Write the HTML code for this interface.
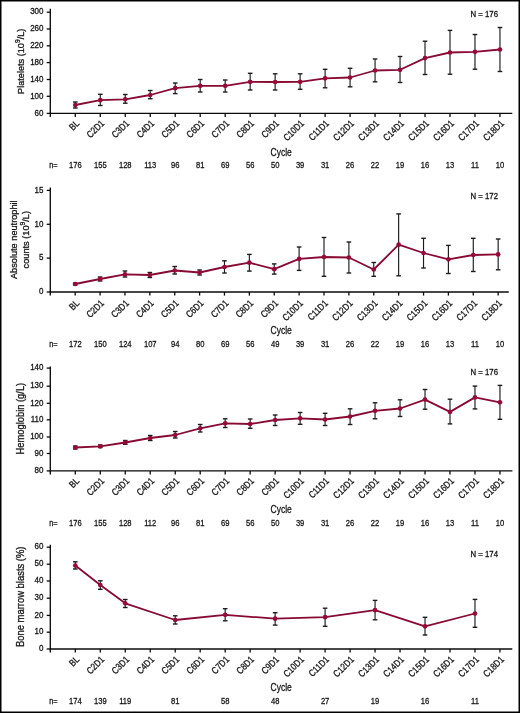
<!DOCTYPE html>
<html><head><meta charset="utf-8"><style>
html,body{margin:0;padding:0;background:#fff;}
#c{position:relative;width:520px;height:713px;overflow:hidden;background:#fff;}
svg{position:absolute;left:0;top:0;filter:blur(0.3px);}
text{font-family:"Liberation Sans", sans-serif;fill:#151515;stroke:#151515;stroke-width:0.3px;}
</style></head><body><div id="c">
<svg width="520" height="713" viewBox="0 0 520 713">
<rect x="0.75" y="0.75" width="518.5" height="711.5" fill="none" stroke="#000" stroke-width="1.5"/>
<line x1="50.3" y1="8.8" x2="50.3" y2="117.0" stroke="#0a0a0a" stroke-width="1.35"/>
<line x1="49.7" y1="113.4" x2="512.3" y2="113.4" stroke="#0a0a0a" stroke-width="1.35"/>
<line x1="46.7" y1="12.2" x2="50.3" y2="12.2" stroke="#0a0a0a" stroke-width="1.3"/>
<text transform="translate(43.50,14.45) scale(0.909,1)" text-anchor="end" font-size="8.80">300</text>
<line x1="46.7" y1="29.0" x2="50.3" y2="29.0" stroke="#0a0a0a" stroke-width="1.3"/>
<text transform="translate(43.50,31.25) scale(0.909,1)" text-anchor="end" font-size="8.80">260</text>
<line x1="46.7" y1="45.8" x2="50.3" y2="45.8" stroke="#0a0a0a" stroke-width="1.3"/>
<text transform="translate(43.50,48.05) scale(0.909,1)" text-anchor="end" font-size="8.80">220</text>
<line x1="46.7" y1="62.6" x2="50.3" y2="62.6" stroke="#0a0a0a" stroke-width="1.3"/>
<text transform="translate(43.50,64.85) scale(0.909,1)" text-anchor="end" font-size="8.80">180</text>
<line x1="46.7" y1="79.5" x2="50.3" y2="79.5" stroke="#0a0a0a" stroke-width="1.3"/>
<text transform="translate(43.50,81.75) scale(0.909,1)" text-anchor="end" font-size="8.80">140</text>
<line x1="46.7" y1="96.3" x2="50.3" y2="96.3" stroke="#0a0a0a" stroke-width="1.3"/>
<text transform="translate(43.50,98.55) scale(0.909,1)" text-anchor="end" font-size="8.80">100</text>
<line x1="46.7" y1="113.4" x2="50.3" y2="113.4" stroke="#0a0a0a" stroke-width="1.3"/>
<text transform="translate(43.50,115.65) scale(0.909,1)" text-anchor="end" font-size="8.80">60</text>
<line x1="75.30" y1="113.4" x2="75.30" y2="117.0" stroke="#0a0a0a" stroke-width="1.3"/>
<text transform="translate(79.90,124.00) rotate(-45) scale(0.833,1)" text-anchor="end" font-size="9.60">BL</text>
<line x1="100.28" y1="113.4" x2="100.28" y2="117.0" stroke="#0a0a0a" stroke-width="1.3"/>
<text transform="translate(104.88,124.00) rotate(-45) scale(0.833,1)" text-anchor="end" font-size="9.60">C2D1</text>
<line x1="125.26" y1="113.4" x2="125.26" y2="117.0" stroke="#0a0a0a" stroke-width="1.3"/>
<text transform="translate(129.86,124.00) rotate(-45) scale(0.833,1)" text-anchor="end" font-size="9.60">C3D1</text>
<line x1="150.24" y1="113.4" x2="150.24" y2="117.0" stroke="#0a0a0a" stroke-width="1.3"/>
<text transform="translate(154.84,124.00) rotate(-45) scale(0.833,1)" text-anchor="end" font-size="9.60">C4D1</text>
<line x1="175.22" y1="113.4" x2="175.22" y2="117.0" stroke="#0a0a0a" stroke-width="1.3"/>
<text transform="translate(179.82,124.00) rotate(-45) scale(0.833,1)" text-anchor="end" font-size="9.60">C5D1</text>
<line x1="200.20" y1="113.4" x2="200.20" y2="117.0" stroke="#0a0a0a" stroke-width="1.3"/>
<text transform="translate(204.80,124.00) rotate(-45) scale(0.833,1)" text-anchor="end" font-size="9.60">C6D1</text>
<line x1="225.18" y1="113.4" x2="225.18" y2="117.0" stroke="#0a0a0a" stroke-width="1.3"/>
<text transform="translate(229.78,124.00) rotate(-45) scale(0.833,1)" text-anchor="end" font-size="9.60">C7D1</text>
<line x1="250.16" y1="113.4" x2="250.16" y2="117.0" stroke="#0a0a0a" stroke-width="1.3"/>
<text transform="translate(254.76,124.00) rotate(-45) scale(0.833,1)" text-anchor="end" font-size="9.60">C8D1</text>
<line x1="275.14" y1="113.4" x2="275.14" y2="117.0" stroke="#0a0a0a" stroke-width="1.3"/>
<text transform="translate(279.74,124.00) rotate(-45) scale(0.833,1)" text-anchor="end" font-size="9.60">C9D1</text>
<line x1="300.12" y1="113.4" x2="300.12" y2="117.0" stroke="#0a0a0a" stroke-width="1.3"/>
<text transform="translate(304.72,124.00) rotate(-45) scale(0.833,1)" text-anchor="end" font-size="9.60">C10D1</text>
<line x1="325.10" y1="113.4" x2="325.10" y2="117.0" stroke="#0a0a0a" stroke-width="1.3"/>
<text transform="translate(329.70,124.00) rotate(-45) scale(0.833,1)" text-anchor="end" font-size="9.60">C11D1</text>
<line x1="350.08" y1="113.4" x2="350.08" y2="117.0" stroke="#0a0a0a" stroke-width="1.3"/>
<text transform="translate(354.68,124.00) rotate(-45) scale(0.833,1)" text-anchor="end" font-size="9.60">C12D1</text>
<line x1="375.06" y1="113.4" x2="375.06" y2="117.0" stroke="#0a0a0a" stroke-width="1.3"/>
<text transform="translate(379.66,124.00) rotate(-45) scale(0.833,1)" text-anchor="end" font-size="9.60">C13D1</text>
<line x1="400.04" y1="113.4" x2="400.04" y2="117.0" stroke="#0a0a0a" stroke-width="1.3"/>
<text transform="translate(404.64,124.00) rotate(-45) scale(0.833,1)" text-anchor="end" font-size="9.60">C14D1</text>
<line x1="425.02" y1="113.4" x2="425.02" y2="117.0" stroke="#0a0a0a" stroke-width="1.3"/>
<text transform="translate(429.62,124.00) rotate(-45) scale(0.833,1)" text-anchor="end" font-size="9.60">C15D1</text>
<line x1="450.00" y1="113.4" x2="450.00" y2="117.0" stroke="#0a0a0a" stroke-width="1.3"/>
<text transform="translate(454.60,124.00) rotate(-45) scale(0.833,1)" text-anchor="end" font-size="9.60">C16D1</text>
<line x1="474.98" y1="113.4" x2="474.98" y2="117.0" stroke="#0a0a0a" stroke-width="1.3"/>
<text transform="translate(479.58,124.00) rotate(-45) scale(0.833,1)" text-anchor="end" font-size="9.60">C17D1</text>
<line x1="499.96" y1="113.4" x2="499.96" y2="117.0" stroke="#0a0a0a" stroke-width="1.3"/>
<text transform="translate(504.56,124.00) rotate(-45) scale(0.833,1)" text-anchor="end" font-size="9.60">C18D1</text>
<text transform="translate(270.60,155.80) scale(0.769,1)" font-size="11.05">Cycle</text>
<text transform="translate(49.20,168.00) scale(0.800,1)" font-size="9.25">n=</text>
<text transform="translate(75.30,168.00) scale(0.800,1)" text-anchor="middle" font-size="9.50">176</text>
<text transform="translate(100.28,168.00) scale(0.800,1)" text-anchor="middle" font-size="9.50">155</text>
<text transform="translate(125.26,168.00) scale(0.800,1)" text-anchor="middle" font-size="9.50">128</text>
<text transform="translate(150.24,168.00) scale(0.800,1)" text-anchor="middle" font-size="9.50">113</text>
<text transform="translate(175.22,168.00) scale(0.800,1)" text-anchor="middle" font-size="9.50">96</text>
<text transform="translate(200.20,168.00) scale(0.800,1)" text-anchor="middle" font-size="9.50">81</text>
<text transform="translate(225.18,168.00) scale(0.800,1)" text-anchor="middle" font-size="9.50">69</text>
<text transform="translate(250.16,168.00) scale(0.800,1)" text-anchor="middle" font-size="9.50">56</text>
<text transform="translate(275.14,168.00) scale(0.800,1)" text-anchor="middle" font-size="9.50">50</text>
<text transform="translate(300.12,168.00) scale(0.800,1)" text-anchor="middle" font-size="9.50">39</text>
<text transform="translate(325.10,168.00) scale(0.800,1)" text-anchor="middle" font-size="9.50">31</text>
<text transform="translate(350.08,168.00) scale(0.800,1)" text-anchor="middle" font-size="9.50">26</text>
<text transform="translate(375.06,168.00) scale(0.800,1)" text-anchor="middle" font-size="9.50">22</text>
<text transform="translate(400.04,168.00) scale(0.800,1)" text-anchor="middle" font-size="9.50">19</text>
<text transform="translate(425.02,168.00) scale(0.800,1)" text-anchor="middle" font-size="9.50">16</text>
<text transform="translate(450.00,168.00) scale(0.800,1)" text-anchor="middle" font-size="9.50">13</text>
<text transform="translate(474.98,168.00) scale(0.800,1)" text-anchor="middle" font-size="9.50">11</text>
<text transform="translate(499.96,168.00) scale(0.800,1)" text-anchor="middle" font-size="9.50">10</text>
<text transform="translate(498.00,17.40) scale(0.909,1)" text-anchor="end" font-size="8.58">N = 176</text>
<text transform="translate(23.60,61.30) rotate(-90) scale(0.935,1)" text-anchor="middle" font-size="9.79">Platelets (10<tspan dy='-3.4' font-size='7.2'>9</tspan><tspan dy='3.4'>/L)</tspan></text>
<line x1="75.30" y1="102" x2="75.30" y2="108" stroke="#1c1c1c" stroke-width="1.15"/>
<line x1="73.00" y1="102" x2="77.60" y2="102" stroke="#1c1c1c" stroke-width="1.4"/>
<line x1="73.00" y1="108" x2="77.60" y2="108" stroke="#1c1c1c" stroke-width="1.4"/>
<line x1="100.28" y1="94.3" x2="100.28" y2="105.5" stroke="#1c1c1c" stroke-width="1.15"/>
<line x1="97.98" y1="94.3" x2="102.58" y2="94.3" stroke="#1c1c1c" stroke-width="1.4"/>
<line x1="97.98" y1="105.5" x2="102.58" y2="105.5" stroke="#1c1c1c" stroke-width="1.4"/>
<line x1="125.26" y1="94.5" x2="125.26" y2="103.2" stroke="#1c1c1c" stroke-width="1.15"/>
<line x1="122.96" y1="94.5" x2="127.56" y2="94.5" stroke="#1c1c1c" stroke-width="1.4"/>
<line x1="122.96" y1="103.2" x2="127.56" y2="103.2" stroke="#1c1c1c" stroke-width="1.4"/>
<line x1="150.24" y1="90.5" x2="150.24" y2="98.7" stroke="#1c1c1c" stroke-width="1.15"/>
<line x1="147.94" y1="90.5" x2="152.54" y2="90.5" stroke="#1c1c1c" stroke-width="1.4"/>
<line x1="147.94" y1="98.7" x2="152.54" y2="98.7" stroke="#1c1c1c" stroke-width="1.4"/>
<line x1="175.22" y1="83" x2="175.22" y2="93.6" stroke="#1c1c1c" stroke-width="1.15"/>
<line x1="172.92" y1="83" x2="177.52" y2="83" stroke="#1c1c1c" stroke-width="1.4"/>
<line x1="172.92" y1="93.6" x2="177.52" y2="93.6" stroke="#1c1c1c" stroke-width="1.4"/>
<line x1="200.20" y1="79.5" x2="200.20" y2="92" stroke="#1c1c1c" stroke-width="1.15"/>
<line x1="197.90" y1="79.5" x2="202.50" y2="79.5" stroke="#1c1c1c" stroke-width="1.4"/>
<line x1="197.90" y1="92" x2="202.50" y2="92" stroke="#1c1c1c" stroke-width="1.4"/>
<line x1="225.18" y1="80" x2="225.18" y2="92" stroke="#1c1c1c" stroke-width="1.15"/>
<line x1="222.88" y1="80" x2="227.48" y2="80" stroke="#1c1c1c" stroke-width="1.4"/>
<line x1="222.88" y1="92" x2="227.48" y2="92" stroke="#1c1c1c" stroke-width="1.4"/>
<line x1="250.16" y1="73.3" x2="250.16" y2="90" stroke="#1c1c1c" stroke-width="1.15"/>
<line x1="247.86" y1="73.3" x2="252.46" y2="73.3" stroke="#1c1c1c" stroke-width="1.4"/>
<line x1="247.86" y1="90" x2="252.46" y2="90" stroke="#1c1c1c" stroke-width="1.4"/>
<line x1="275.14" y1="73.8" x2="275.14" y2="90" stroke="#1c1c1c" stroke-width="1.15"/>
<line x1="272.84" y1="73.8" x2="277.44" y2="73.8" stroke="#1c1c1c" stroke-width="1.4"/>
<line x1="272.84" y1="90" x2="277.44" y2="90" stroke="#1c1c1c" stroke-width="1.4"/>
<line x1="300.12" y1="73.8" x2="300.12" y2="89.3" stroke="#1c1c1c" stroke-width="1.15"/>
<line x1="297.82" y1="73.8" x2="302.42" y2="73.8" stroke="#1c1c1c" stroke-width="1.4"/>
<line x1="297.82" y1="89.3" x2="302.42" y2="89.3" stroke="#1c1c1c" stroke-width="1.4"/>
<line x1="325.10" y1="69.3" x2="325.10" y2="87.8" stroke="#1c1c1c" stroke-width="1.15"/>
<line x1="322.80" y1="69.3" x2="327.40" y2="69.3" stroke="#1c1c1c" stroke-width="1.4"/>
<line x1="322.80" y1="87.8" x2="327.40" y2="87.8" stroke="#1c1c1c" stroke-width="1.4"/>
<line x1="350.08" y1="68.3" x2="350.08" y2="86.8" stroke="#1c1c1c" stroke-width="1.15"/>
<line x1="347.78" y1="68.3" x2="352.38" y2="68.3" stroke="#1c1c1c" stroke-width="1.4"/>
<line x1="347.78" y1="86.8" x2="352.38" y2="86.8" stroke="#1c1c1c" stroke-width="1.4"/>
<line x1="375.06" y1="59" x2="375.06" y2="81.8" stroke="#1c1c1c" stroke-width="1.15"/>
<line x1="372.76" y1="59" x2="377.36" y2="59" stroke="#1c1c1c" stroke-width="1.4"/>
<line x1="372.76" y1="81.8" x2="377.36" y2="81.8" stroke="#1c1c1c" stroke-width="1.4"/>
<line x1="400.04" y1="56.5" x2="400.04" y2="82.5" stroke="#1c1c1c" stroke-width="1.15"/>
<line x1="397.74" y1="56.5" x2="402.34" y2="56.5" stroke="#1c1c1c" stroke-width="1.4"/>
<line x1="397.74" y1="82.5" x2="402.34" y2="82.5" stroke="#1c1c1c" stroke-width="1.4"/>
<line x1="425.02" y1="41.2" x2="425.02" y2="74.5" stroke="#1c1c1c" stroke-width="1.15"/>
<line x1="422.72" y1="41.2" x2="427.32" y2="41.2" stroke="#1c1c1c" stroke-width="1.4"/>
<line x1="422.72" y1="74.5" x2="427.32" y2="74.5" stroke="#1c1c1c" stroke-width="1.4"/>
<line x1="450.00" y1="30.4" x2="450.00" y2="74.2" stroke="#1c1c1c" stroke-width="1.15"/>
<line x1="447.70" y1="30.4" x2="452.30" y2="30.4" stroke="#1c1c1c" stroke-width="1.4"/>
<line x1="447.70" y1="74.2" x2="452.30" y2="74.2" stroke="#1c1c1c" stroke-width="1.4"/>
<line x1="474.98" y1="34.5" x2="474.98" y2="69.2" stroke="#1c1c1c" stroke-width="1.15"/>
<line x1="472.68" y1="34.5" x2="477.28" y2="34.5" stroke="#1c1c1c" stroke-width="1.4"/>
<line x1="472.68" y1="69.2" x2="477.28" y2="69.2" stroke="#1c1c1c" stroke-width="1.4"/>
<line x1="499.96" y1="27.5" x2="499.96" y2="71.5" stroke="#1c1c1c" stroke-width="1.15"/>
<line x1="497.66" y1="27.5" x2="502.26" y2="27.5" stroke="#1c1c1c" stroke-width="1.4"/>
<line x1="497.66" y1="71.5" x2="502.26" y2="71.5" stroke="#1c1c1c" stroke-width="1.4"/>
<polyline points="75.30,105 100.28,100.2 125.26,99.3 150.24,95 175.22,88.2 200.20,85.8 225.18,85.8 250.16,81.8 275.14,82 300.12,81.8 325.10,78.3 350.08,77.5 375.06,70.5 400.04,69.8 425.02,58.1 450.00,52.5 474.98,51.8 499.96,49.5" fill="none" stroke="#870a32" stroke-width="1.8" stroke-linejoin="round"/>
<circle cx="75.30" cy="105" r="2.35" fill="#960a38"/>
<circle cx="100.28" cy="100.2" r="2.35" fill="#960a38"/>
<circle cx="125.26" cy="99.3" r="2.35" fill="#960a38"/>
<circle cx="150.24" cy="95" r="2.35" fill="#960a38"/>
<circle cx="175.22" cy="88.2" r="2.35" fill="#960a38"/>
<circle cx="200.20" cy="85.8" r="2.35" fill="#960a38"/>
<circle cx="225.18" cy="85.8" r="2.35" fill="#960a38"/>
<circle cx="250.16" cy="81.8" r="2.35" fill="#960a38"/>
<circle cx="275.14" cy="82" r="2.35" fill="#960a38"/>
<circle cx="300.12" cy="81.8" r="2.35" fill="#960a38"/>
<circle cx="325.10" cy="78.3" r="2.35" fill="#960a38"/>
<circle cx="350.08" cy="77.5" r="2.35" fill="#960a38"/>
<circle cx="375.06" cy="70.5" r="2.35" fill="#960a38"/>
<circle cx="400.04" cy="69.8" r="2.35" fill="#960a38"/>
<circle cx="425.02" cy="58.1" r="2.35" fill="#960a38"/>
<circle cx="450.00" cy="52.5" r="2.35" fill="#960a38"/>
<circle cx="474.98" cy="51.8" r="2.35" fill="#960a38"/>
<circle cx="499.96" cy="49.5" r="2.35" fill="#960a38"/>
<line x1="50.3" y1="187.6" x2="50.3" y2="295.6" stroke="#0a0a0a" stroke-width="1.35"/>
<line x1="49.7" y1="292.0" x2="508.8" y2="292.0" stroke="#0a0a0a" stroke-width="1.35"/>
<line x1="46.7" y1="190.4" x2="50.3" y2="190.4" stroke="#0a0a0a" stroke-width="1.3"/>
<text transform="translate(43.50,192.65) scale(0.909,1)" text-anchor="end" font-size="8.80">15</text>
<line x1="46.7" y1="224.3" x2="50.3" y2="224.3" stroke="#0a0a0a" stroke-width="1.3"/>
<text transform="translate(43.50,226.55) scale(0.909,1)" text-anchor="end" font-size="8.80">10</text>
<line x1="46.7" y1="258.1" x2="50.3" y2="258.1" stroke="#0a0a0a" stroke-width="1.3"/>
<text transform="translate(43.50,260.35) scale(0.909,1)" text-anchor="end" font-size="8.80">5</text>
<line x1="46.7" y1="292.0" x2="50.3" y2="292.0" stroke="#0a0a0a" stroke-width="1.3"/>
<text transform="translate(43.50,294.25) scale(0.909,1)" text-anchor="end" font-size="8.80">0</text>
<line x1="75.20" y1="292.0" x2="75.20" y2="295.6" stroke="#0a0a0a" stroke-width="1.3"/>
<text transform="translate(79.80,303.90) rotate(-45) scale(0.833,1)" text-anchor="end" font-size="9.60">BL</text>
<line x1="100.08" y1="292.0" x2="100.08" y2="295.6" stroke="#0a0a0a" stroke-width="1.3"/>
<text transform="translate(104.68,303.90) rotate(-45) scale(0.833,1)" text-anchor="end" font-size="9.60">C2D1</text>
<line x1="124.96" y1="292.0" x2="124.96" y2="295.6" stroke="#0a0a0a" stroke-width="1.3"/>
<text transform="translate(129.56,303.90) rotate(-45) scale(0.833,1)" text-anchor="end" font-size="9.60">C3D1</text>
<line x1="149.84" y1="292.0" x2="149.84" y2="295.6" stroke="#0a0a0a" stroke-width="1.3"/>
<text transform="translate(154.44,303.90) rotate(-45) scale(0.833,1)" text-anchor="end" font-size="9.60">C4D1</text>
<line x1="174.72" y1="292.0" x2="174.72" y2="295.6" stroke="#0a0a0a" stroke-width="1.3"/>
<text transform="translate(179.32,303.90) rotate(-45) scale(0.833,1)" text-anchor="end" font-size="9.60">C5D1</text>
<line x1="199.60" y1="292.0" x2="199.60" y2="295.6" stroke="#0a0a0a" stroke-width="1.3"/>
<text transform="translate(204.20,303.90) rotate(-45) scale(0.833,1)" text-anchor="end" font-size="9.60">C6D1</text>
<line x1="224.48" y1="292.0" x2="224.48" y2="295.6" stroke="#0a0a0a" stroke-width="1.3"/>
<text transform="translate(229.08,303.90) rotate(-45) scale(0.833,1)" text-anchor="end" font-size="9.60">C7D1</text>
<line x1="249.36" y1="292.0" x2="249.36" y2="295.6" stroke="#0a0a0a" stroke-width="1.3"/>
<text transform="translate(253.96,303.90) rotate(-45) scale(0.833,1)" text-anchor="end" font-size="9.60">C8D1</text>
<line x1="274.24" y1="292.0" x2="274.24" y2="295.6" stroke="#0a0a0a" stroke-width="1.3"/>
<text transform="translate(278.84,303.90) rotate(-45) scale(0.833,1)" text-anchor="end" font-size="9.60">C9D1</text>
<line x1="299.12" y1="292.0" x2="299.12" y2="295.6" stroke="#0a0a0a" stroke-width="1.3"/>
<text transform="translate(303.72,303.90) rotate(-45) scale(0.833,1)" text-anchor="end" font-size="9.60">C10D1</text>
<line x1="324.00" y1="292.0" x2="324.00" y2="295.6" stroke="#0a0a0a" stroke-width="1.3"/>
<text transform="translate(328.60,303.90) rotate(-45) scale(0.833,1)" text-anchor="end" font-size="9.60">C11D1</text>
<line x1="348.88" y1="292.0" x2="348.88" y2="295.6" stroke="#0a0a0a" stroke-width="1.3"/>
<text transform="translate(353.48,303.90) rotate(-45) scale(0.833,1)" text-anchor="end" font-size="9.60">C12D1</text>
<line x1="373.76" y1="292.0" x2="373.76" y2="295.6" stroke="#0a0a0a" stroke-width="1.3"/>
<text transform="translate(378.36,303.90) rotate(-45) scale(0.833,1)" text-anchor="end" font-size="9.60">C13D1</text>
<line x1="398.64" y1="292.0" x2="398.64" y2="295.6" stroke="#0a0a0a" stroke-width="1.3"/>
<text transform="translate(403.24,303.90) rotate(-45) scale(0.833,1)" text-anchor="end" font-size="9.60">C14D1</text>
<line x1="423.52" y1="292.0" x2="423.52" y2="295.6" stroke="#0a0a0a" stroke-width="1.3"/>
<text transform="translate(428.12,303.90) rotate(-45) scale(0.833,1)" text-anchor="end" font-size="9.60">C15D1</text>
<line x1="448.40" y1="292.0" x2="448.40" y2="295.6" stroke="#0a0a0a" stroke-width="1.3"/>
<text transform="translate(453.00,303.90) rotate(-45) scale(0.833,1)" text-anchor="end" font-size="9.60">C16D1</text>
<line x1="473.28" y1="292.0" x2="473.28" y2="295.6" stroke="#0a0a0a" stroke-width="1.3"/>
<text transform="translate(477.88,303.90) rotate(-45) scale(0.833,1)" text-anchor="end" font-size="9.60">C17D1</text>
<line x1="498.16" y1="292.0" x2="498.16" y2="295.6" stroke="#0a0a0a" stroke-width="1.3"/>
<text transform="translate(502.76,303.90) rotate(-45) scale(0.833,1)" text-anchor="end" font-size="9.60">C18D1</text>
<text transform="translate(270.60,334.40) scale(0.769,1)" font-size="11.05">Cycle</text>
<text transform="translate(49.20,346.60) scale(0.800,1)" font-size="9.25">n=</text>
<text transform="translate(75.30,346.60) scale(0.800,1)" text-anchor="middle" font-size="9.50">172</text>
<text transform="translate(100.28,346.60) scale(0.800,1)" text-anchor="middle" font-size="9.50">150</text>
<text transform="translate(125.26,346.60) scale(0.800,1)" text-anchor="middle" font-size="9.50">124</text>
<text transform="translate(150.24,346.60) scale(0.800,1)" text-anchor="middle" font-size="9.50">107</text>
<text transform="translate(175.22,346.60) scale(0.800,1)" text-anchor="middle" font-size="9.50">94</text>
<text transform="translate(200.20,346.60) scale(0.800,1)" text-anchor="middle" font-size="9.50">80</text>
<text transform="translate(225.18,346.60) scale(0.800,1)" text-anchor="middle" font-size="9.50">69</text>
<text transform="translate(250.16,346.60) scale(0.800,1)" text-anchor="middle" font-size="9.50">56</text>
<text transform="translate(275.14,346.60) scale(0.800,1)" text-anchor="middle" font-size="9.50">49</text>
<text transform="translate(300.12,346.60) scale(0.800,1)" text-anchor="middle" font-size="9.50">39</text>
<text transform="translate(325.10,346.60) scale(0.800,1)" text-anchor="middle" font-size="9.50">31</text>
<text transform="translate(350.08,346.60) scale(0.800,1)" text-anchor="middle" font-size="9.50">26</text>
<text transform="translate(375.06,346.60) scale(0.800,1)" text-anchor="middle" font-size="9.50">22</text>
<text transform="translate(400.04,346.60) scale(0.800,1)" text-anchor="middle" font-size="9.50">19</text>
<text transform="translate(425.02,346.60) scale(0.800,1)" text-anchor="middle" font-size="9.50">16</text>
<text transform="translate(450.00,346.60) scale(0.800,1)" text-anchor="middle" font-size="9.50">13</text>
<text transform="translate(474.98,346.60) scale(0.800,1)" text-anchor="middle" font-size="9.50">11</text>
<text transform="translate(499.96,346.60) scale(0.800,1)" text-anchor="middle" font-size="9.50">10</text>
<text transform="translate(498.00,199.30) scale(0.909,1)" text-anchor="end" font-size="8.58">N = 172</text>
<text transform="translate(16.60,239.70) rotate(-90) scale(0.935,1)" text-anchor="middle" font-size="9.84">Absolute neutrophil</text>
<text transform="translate(28.60,239.70) rotate(-90) scale(0.935,1)" text-anchor="middle" font-size="9.84">counts (10<tspan dy='-3.4' font-size='7.2'>9</tspan><tspan dy='3.4'>/L)</tspan></text>
<line x1="75.20" y1="283" x2="75.20" y2="285" stroke="#1c1c1c" stroke-width="1.15"/>
<line x1="72.90" y1="283" x2="77.50" y2="283" stroke="#1c1c1c" stroke-width="1.4"/>
<line x1="72.90" y1="285" x2="77.50" y2="285" stroke="#1c1c1c" stroke-width="1.4"/>
<line x1="100.08" y1="277" x2="100.08" y2="281" stroke="#1c1c1c" stroke-width="1.15"/>
<line x1="97.78" y1="277" x2="102.38" y2="277" stroke="#1c1c1c" stroke-width="1.4"/>
<line x1="97.78" y1="281" x2="102.38" y2="281" stroke="#1c1c1c" stroke-width="1.4"/>
<line x1="124.96" y1="271" x2="124.96" y2="277" stroke="#1c1c1c" stroke-width="1.15"/>
<line x1="122.66" y1="271" x2="127.26" y2="271" stroke="#1c1c1c" stroke-width="1.4"/>
<line x1="122.66" y1="277" x2="127.26" y2="277" stroke="#1c1c1c" stroke-width="1.4"/>
<line x1="149.84" y1="272.5" x2="149.84" y2="277.5" stroke="#1c1c1c" stroke-width="1.15"/>
<line x1="147.54" y1="272.5" x2="152.14" y2="272.5" stroke="#1c1c1c" stroke-width="1.4"/>
<line x1="147.54" y1="277.5" x2="152.14" y2="277.5" stroke="#1c1c1c" stroke-width="1.4"/>
<line x1="174.72" y1="266.5" x2="174.72" y2="274" stroke="#1c1c1c" stroke-width="1.15"/>
<line x1="172.42" y1="266.5" x2="177.02" y2="266.5" stroke="#1c1c1c" stroke-width="1.4"/>
<line x1="172.42" y1="274" x2="177.02" y2="274" stroke="#1c1c1c" stroke-width="1.4"/>
<line x1="199.60" y1="270" x2="199.60" y2="275" stroke="#1c1c1c" stroke-width="1.15"/>
<line x1="197.30" y1="270" x2="201.90" y2="270" stroke="#1c1c1c" stroke-width="1.4"/>
<line x1="197.30" y1="275" x2="201.90" y2="275" stroke="#1c1c1c" stroke-width="1.4"/>
<line x1="224.48" y1="260.8" x2="224.48" y2="273" stroke="#1c1c1c" stroke-width="1.15"/>
<line x1="222.18" y1="260.8" x2="226.78" y2="260.8" stroke="#1c1c1c" stroke-width="1.4"/>
<line x1="222.18" y1="273" x2="226.78" y2="273" stroke="#1c1c1c" stroke-width="1.4"/>
<line x1="249.36" y1="254.4" x2="249.36" y2="271.1" stroke="#1c1c1c" stroke-width="1.15"/>
<line x1="247.06" y1="254.4" x2="251.66" y2="254.4" stroke="#1c1c1c" stroke-width="1.4"/>
<line x1="247.06" y1="271.1" x2="251.66" y2="271.1" stroke="#1c1c1c" stroke-width="1.4"/>
<line x1="274.24" y1="263.9" x2="274.24" y2="274.1" stroke="#1c1c1c" stroke-width="1.15"/>
<line x1="271.94" y1="263.9" x2="276.54" y2="263.9" stroke="#1c1c1c" stroke-width="1.4"/>
<line x1="271.94" y1="274.1" x2="276.54" y2="274.1" stroke="#1c1c1c" stroke-width="1.4"/>
<line x1="299.12" y1="247" x2="299.12" y2="270.4" stroke="#1c1c1c" stroke-width="1.15"/>
<line x1="296.82" y1="247" x2="301.42" y2="247" stroke="#1c1c1c" stroke-width="1.4"/>
<line x1="296.82" y1="270.4" x2="301.42" y2="270.4" stroke="#1c1c1c" stroke-width="1.4"/>
<line x1="324.00" y1="237.5" x2="324.00" y2="276.3" stroke="#1c1c1c" stroke-width="1.15"/>
<line x1="321.70" y1="237.5" x2="326.30" y2="237.5" stroke="#1c1c1c" stroke-width="1.4"/>
<line x1="321.70" y1="276.3" x2="326.30" y2="276.3" stroke="#1c1c1c" stroke-width="1.4"/>
<line x1="348.88" y1="242" x2="348.88" y2="273" stroke="#1c1c1c" stroke-width="1.15"/>
<line x1="346.58" y1="242" x2="351.18" y2="242" stroke="#1c1c1c" stroke-width="1.4"/>
<line x1="346.58" y1="273" x2="351.18" y2="273" stroke="#1c1c1c" stroke-width="1.4"/>
<line x1="373.76" y1="262.5" x2="373.76" y2="276.3" stroke="#1c1c1c" stroke-width="1.15"/>
<line x1="371.46" y1="262.5" x2="376.06" y2="262.5" stroke="#1c1c1c" stroke-width="1.4"/>
<line x1="371.46" y1="276.3" x2="376.06" y2="276.3" stroke="#1c1c1c" stroke-width="1.4"/>
<line x1="398.64" y1="213.9" x2="398.64" y2="275.8" stroke="#1c1c1c" stroke-width="1.15"/>
<line x1="396.34" y1="213.9" x2="400.94" y2="213.9" stroke="#1c1c1c" stroke-width="1.4"/>
<line x1="396.34" y1="275.8" x2="400.94" y2="275.8" stroke="#1c1c1c" stroke-width="1.4"/>
<line x1="423.52" y1="238.3" x2="423.52" y2="268" stroke="#1c1c1c" stroke-width="1.15"/>
<line x1="421.22" y1="238.3" x2="425.82" y2="238.3" stroke="#1c1c1c" stroke-width="1.4"/>
<line x1="421.22" y1="268" x2="425.82" y2="268" stroke="#1c1c1c" stroke-width="1.4"/>
<line x1="448.40" y1="245.4" x2="448.40" y2="273.5" stroke="#1c1c1c" stroke-width="1.15"/>
<line x1="446.10" y1="245.4" x2="450.70" y2="245.4" stroke="#1c1c1c" stroke-width="1.4"/>
<line x1="446.10" y1="273.5" x2="450.70" y2="273.5" stroke="#1c1c1c" stroke-width="1.4"/>
<line x1="473.28" y1="238.3" x2="473.28" y2="271.5" stroke="#1c1c1c" stroke-width="1.15"/>
<line x1="470.98" y1="238.3" x2="475.58" y2="238.3" stroke="#1c1c1c" stroke-width="1.4"/>
<line x1="470.98" y1="271.5" x2="475.58" y2="271.5" stroke="#1c1c1c" stroke-width="1.4"/>
<line x1="498.16" y1="239" x2="498.16" y2="269.8" stroke="#1c1c1c" stroke-width="1.15"/>
<line x1="495.86" y1="239" x2="500.46" y2="239" stroke="#1c1c1c" stroke-width="1.4"/>
<line x1="495.86" y1="269.8" x2="500.46" y2="269.8" stroke="#1c1c1c" stroke-width="1.4"/>
<polyline points="75.20,284 100.08,279 124.96,274.3 149.84,275 174.72,270.5 199.60,272.5 224.48,267 249.36,262.7 274.24,269.2 299.12,258.9 324.00,257 348.88,257.5 373.76,269.5 398.64,244.7 423.52,253 448.40,259.3 473.28,255 498.16,254.4" fill="none" stroke="#870a32" stroke-width="1.8" stroke-linejoin="round"/>
<circle cx="75.20" cy="284" r="2.35" fill="#960a38"/>
<circle cx="100.08" cy="279" r="2.35" fill="#960a38"/>
<circle cx="124.96" cy="274.3" r="2.35" fill="#960a38"/>
<circle cx="149.84" cy="275" r="2.35" fill="#960a38"/>
<circle cx="174.72" cy="270.5" r="2.35" fill="#960a38"/>
<circle cx="199.60" cy="272.5" r="2.35" fill="#960a38"/>
<circle cx="224.48" cy="267" r="2.35" fill="#960a38"/>
<circle cx="249.36" cy="262.7" r="2.35" fill="#960a38"/>
<circle cx="274.24" cy="269.2" r="2.35" fill="#960a38"/>
<circle cx="299.12" cy="258.9" r="2.35" fill="#960a38"/>
<circle cx="324.00" cy="257" r="2.35" fill="#960a38"/>
<circle cx="348.88" cy="257.5" r="2.35" fill="#960a38"/>
<circle cx="373.76" cy="269.5" r="2.35" fill="#960a38"/>
<circle cx="398.64" cy="244.7" r="2.35" fill="#960a38"/>
<circle cx="423.52" cy="253" r="2.35" fill="#960a38"/>
<circle cx="448.40" cy="259.3" r="2.35" fill="#960a38"/>
<circle cx="473.28" cy="255" r="2.35" fill="#960a38"/>
<circle cx="498.16" cy="254.4" r="2.35" fill="#960a38"/>
<line x1="50.3" y1="366.5" x2="50.3" y2="474.5" stroke="#0a0a0a" stroke-width="1.35"/>
<line x1="49.7" y1="470.9" x2="512.4" y2="470.9" stroke="#0a0a0a" stroke-width="1.35"/>
<line x1="46.7" y1="368.1" x2="50.3" y2="368.1" stroke="#0a0a0a" stroke-width="1.3"/>
<text transform="translate(43.50,370.35) scale(0.909,1)" text-anchor="end" font-size="8.80">140</text>
<line x1="46.7" y1="386.2" x2="50.3" y2="386.2" stroke="#0a0a0a" stroke-width="1.3"/>
<text transform="translate(43.50,388.45) scale(0.909,1)" text-anchor="end" font-size="8.80">130</text>
<line x1="46.7" y1="403.3" x2="50.3" y2="403.3" stroke="#0a0a0a" stroke-width="1.3"/>
<text transform="translate(43.50,405.55) scale(0.909,1)" text-anchor="end" font-size="8.80">120</text>
<line x1="46.7" y1="419.8" x2="50.3" y2="419.8" stroke="#0a0a0a" stroke-width="1.3"/>
<text transform="translate(43.50,422.05) scale(0.909,1)" text-anchor="end" font-size="8.80">110</text>
<line x1="46.7" y1="437.0" x2="50.3" y2="437.0" stroke="#0a0a0a" stroke-width="1.3"/>
<text transform="translate(43.50,439.25) scale(0.909,1)" text-anchor="end" font-size="8.80">100</text>
<line x1="46.7" y1="453.5" x2="50.3" y2="453.5" stroke="#0a0a0a" stroke-width="1.3"/>
<text transform="translate(43.50,455.75) scale(0.909,1)" text-anchor="end" font-size="8.80">90</text>
<line x1="46.7" y1="470.9" x2="50.3" y2="470.9" stroke="#0a0a0a" stroke-width="1.3"/>
<text transform="translate(43.50,473.15) scale(0.909,1)" text-anchor="end" font-size="8.80">80</text>
<line x1="75.30" y1="470.9" x2="75.30" y2="474.5" stroke="#0a0a0a" stroke-width="1.3"/>
<text transform="translate(79.90,481.70) rotate(-45) scale(0.833,1)" text-anchor="end" font-size="9.60">BL</text>
<line x1="100.28" y1="470.9" x2="100.28" y2="474.5" stroke="#0a0a0a" stroke-width="1.3"/>
<text transform="translate(104.88,481.70) rotate(-45) scale(0.833,1)" text-anchor="end" font-size="9.60">C2D1</text>
<line x1="125.26" y1="470.9" x2="125.26" y2="474.5" stroke="#0a0a0a" stroke-width="1.3"/>
<text transform="translate(129.86,481.70) rotate(-45) scale(0.833,1)" text-anchor="end" font-size="9.60">C3D1</text>
<line x1="150.24" y1="470.9" x2="150.24" y2="474.5" stroke="#0a0a0a" stroke-width="1.3"/>
<text transform="translate(154.84,481.70) rotate(-45) scale(0.833,1)" text-anchor="end" font-size="9.60">C4D1</text>
<line x1="175.22" y1="470.9" x2="175.22" y2="474.5" stroke="#0a0a0a" stroke-width="1.3"/>
<text transform="translate(179.82,481.70) rotate(-45) scale(0.833,1)" text-anchor="end" font-size="9.60">C5D1</text>
<line x1="200.20" y1="470.9" x2="200.20" y2="474.5" stroke="#0a0a0a" stroke-width="1.3"/>
<text transform="translate(204.80,481.70) rotate(-45) scale(0.833,1)" text-anchor="end" font-size="9.60">C6D1</text>
<line x1="225.18" y1="470.9" x2="225.18" y2="474.5" stroke="#0a0a0a" stroke-width="1.3"/>
<text transform="translate(229.78,481.70) rotate(-45) scale(0.833,1)" text-anchor="end" font-size="9.60">C7D1</text>
<line x1="250.16" y1="470.9" x2="250.16" y2="474.5" stroke="#0a0a0a" stroke-width="1.3"/>
<text transform="translate(254.76,481.70) rotate(-45) scale(0.833,1)" text-anchor="end" font-size="9.60">C8D1</text>
<line x1="275.14" y1="470.9" x2="275.14" y2="474.5" stroke="#0a0a0a" stroke-width="1.3"/>
<text transform="translate(279.74,481.70) rotate(-45) scale(0.833,1)" text-anchor="end" font-size="9.60">C9D1</text>
<line x1="300.12" y1="470.9" x2="300.12" y2="474.5" stroke="#0a0a0a" stroke-width="1.3"/>
<text transform="translate(304.72,481.70) rotate(-45) scale(0.833,1)" text-anchor="end" font-size="9.60">C10D1</text>
<line x1="325.10" y1="470.9" x2="325.10" y2="474.5" stroke="#0a0a0a" stroke-width="1.3"/>
<text transform="translate(329.70,481.70) rotate(-45) scale(0.833,1)" text-anchor="end" font-size="9.60">C11D1</text>
<line x1="350.08" y1="470.9" x2="350.08" y2="474.5" stroke="#0a0a0a" stroke-width="1.3"/>
<text transform="translate(354.68,481.70) rotate(-45) scale(0.833,1)" text-anchor="end" font-size="9.60">C12D1</text>
<line x1="375.06" y1="470.9" x2="375.06" y2="474.5" stroke="#0a0a0a" stroke-width="1.3"/>
<text transform="translate(379.66,481.70) rotate(-45) scale(0.833,1)" text-anchor="end" font-size="9.60">C13D1</text>
<line x1="400.04" y1="470.9" x2="400.04" y2="474.5" stroke="#0a0a0a" stroke-width="1.3"/>
<text transform="translate(404.64,481.70) rotate(-45) scale(0.833,1)" text-anchor="end" font-size="9.60">C14D1</text>
<line x1="425.02" y1="470.9" x2="425.02" y2="474.5" stroke="#0a0a0a" stroke-width="1.3"/>
<text transform="translate(429.62,481.70) rotate(-45) scale(0.833,1)" text-anchor="end" font-size="9.60">C15D1</text>
<line x1="450.00" y1="470.9" x2="450.00" y2="474.5" stroke="#0a0a0a" stroke-width="1.3"/>
<text transform="translate(454.60,481.70) rotate(-45) scale(0.833,1)" text-anchor="end" font-size="9.60">C16D1</text>
<line x1="474.98" y1="470.9" x2="474.98" y2="474.5" stroke="#0a0a0a" stroke-width="1.3"/>
<text transform="translate(479.58,481.70) rotate(-45) scale(0.833,1)" text-anchor="end" font-size="9.60">C17D1</text>
<line x1="499.96" y1="470.9" x2="499.96" y2="474.5" stroke="#0a0a0a" stroke-width="1.3"/>
<text transform="translate(504.56,481.70) rotate(-45) scale(0.833,1)" text-anchor="end" font-size="9.60">C18D1</text>
<text transform="translate(270.60,513.30) scale(0.769,1)" font-size="11.05">Cycle</text>
<text transform="translate(49.20,525.50) scale(0.800,1)" font-size="9.25">n=</text>
<text transform="translate(75.30,525.50) scale(0.800,1)" text-anchor="middle" font-size="9.50">176</text>
<text transform="translate(100.28,525.50) scale(0.800,1)" text-anchor="middle" font-size="9.50">155</text>
<text transform="translate(125.26,525.50) scale(0.800,1)" text-anchor="middle" font-size="9.50">128</text>
<text transform="translate(150.24,525.50) scale(0.800,1)" text-anchor="middle" font-size="9.50">112</text>
<text transform="translate(175.22,525.50) scale(0.800,1)" text-anchor="middle" font-size="9.50">96</text>
<text transform="translate(200.20,525.50) scale(0.800,1)" text-anchor="middle" font-size="9.50">81</text>
<text transform="translate(225.18,525.50) scale(0.800,1)" text-anchor="middle" font-size="9.50">69</text>
<text transform="translate(250.16,525.50) scale(0.800,1)" text-anchor="middle" font-size="9.50">56</text>
<text transform="translate(275.14,525.50) scale(0.800,1)" text-anchor="middle" font-size="9.50">50</text>
<text transform="translate(300.12,525.50) scale(0.800,1)" text-anchor="middle" font-size="9.50">39</text>
<text transform="translate(325.10,525.50) scale(0.800,1)" text-anchor="middle" font-size="9.50">31</text>
<text transform="translate(350.08,525.50) scale(0.800,1)" text-anchor="middle" font-size="9.50">26</text>
<text transform="translate(375.06,525.50) scale(0.800,1)" text-anchor="middle" font-size="9.50">22</text>
<text transform="translate(400.04,525.50) scale(0.800,1)" text-anchor="middle" font-size="9.50">19</text>
<text transform="translate(425.02,525.50) scale(0.800,1)" text-anchor="middle" font-size="9.50">16</text>
<text transform="translate(450.00,525.50) scale(0.800,1)" text-anchor="middle" font-size="9.50">13</text>
<text transform="translate(474.98,525.50) scale(0.800,1)" text-anchor="middle" font-size="9.50">11</text>
<text transform="translate(499.96,525.50) scale(0.800,1)" text-anchor="middle" font-size="9.50">10</text>
<text transform="translate(498.00,374.50) scale(0.909,1)" text-anchor="end" font-size="8.58">N = 176</text>
<text transform="translate(23.70,418.60) rotate(-90) scale(0.893,1)" text-anchor="middle" font-size="10.47">Hemoglobin (g/L)</text>
<line x1="75.30" y1="446" x2="75.30" y2="449" stroke="#1c1c1c" stroke-width="1.15"/>
<line x1="73.00" y1="446" x2="77.60" y2="446" stroke="#1c1c1c" stroke-width="1.4"/>
<line x1="73.00" y1="449" x2="77.60" y2="449" stroke="#1c1c1c" stroke-width="1.4"/>
<line x1="100.28" y1="445" x2="100.28" y2="447.5" stroke="#1c1c1c" stroke-width="1.15"/>
<line x1="97.98" y1="445" x2="102.58" y2="445" stroke="#1c1c1c" stroke-width="1.4"/>
<line x1="97.98" y1="447.5" x2="102.58" y2="447.5" stroke="#1c1c1c" stroke-width="1.4"/>
<line x1="125.26" y1="440.5" x2="125.26" y2="444.3" stroke="#1c1c1c" stroke-width="1.15"/>
<line x1="122.96" y1="440.5" x2="127.56" y2="440.5" stroke="#1c1c1c" stroke-width="1.4"/>
<line x1="122.96" y1="444.3" x2="127.56" y2="444.3" stroke="#1c1c1c" stroke-width="1.4"/>
<line x1="150.24" y1="435.5" x2="150.24" y2="440.5" stroke="#1c1c1c" stroke-width="1.15"/>
<line x1="147.94" y1="435.5" x2="152.54" y2="435.5" stroke="#1c1c1c" stroke-width="1.4"/>
<line x1="147.94" y1="440.5" x2="152.54" y2="440.5" stroke="#1c1c1c" stroke-width="1.4"/>
<line x1="175.22" y1="431.5" x2="175.22" y2="438" stroke="#1c1c1c" stroke-width="1.15"/>
<line x1="172.92" y1="431.5" x2="177.52" y2="431.5" stroke="#1c1c1c" stroke-width="1.4"/>
<line x1="172.92" y1="438" x2="177.52" y2="438" stroke="#1c1c1c" stroke-width="1.4"/>
<line x1="200.20" y1="424.5" x2="200.20" y2="432" stroke="#1c1c1c" stroke-width="1.15"/>
<line x1="197.90" y1="424.5" x2="202.50" y2="424.5" stroke="#1c1c1c" stroke-width="1.4"/>
<line x1="197.90" y1="432" x2="202.50" y2="432" stroke="#1c1c1c" stroke-width="1.4"/>
<line x1="225.18" y1="418.8" x2="225.18" y2="427.5" stroke="#1c1c1c" stroke-width="1.15"/>
<line x1="222.88" y1="418.8" x2="227.48" y2="418.8" stroke="#1c1c1c" stroke-width="1.4"/>
<line x1="222.88" y1="427.5" x2="227.48" y2="427.5" stroke="#1c1c1c" stroke-width="1.4"/>
<line x1="250.16" y1="419" x2="250.16" y2="428.3" stroke="#1c1c1c" stroke-width="1.15"/>
<line x1="247.86" y1="419" x2="252.46" y2="419" stroke="#1c1c1c" stroke-width="1.4"/>
<line x1="247.86" y1="428.3" x2="252.46" y2="428.3" stroke="#1c1c1c" stroke-width="1.4"/>
<line x1="275.14" y1="415" x2="275.14" y2="425.5" stroke="#1c1c1c" stroke-width="1.15"/>
<line x1="272.84" y1="415" x2="277.44" y2="415" stroke="#1c1c1c" stroke-width="1.4"/>
<line x1="272.84" y1="425.5" x2="277.44" y2="425.5" stroke="#1c1c1c" stroke-width="1.4"/>
<line x1="300.12" y1="412.5" x2="300.12" y2="424.3" stroke="#1c1c1c" stroke-width="1.15"/>
<line x1="297.82" y1="412.5" x2="302.42" y2="412.5" stroke="#1c1c1c" stroke-width="1.4"/>
<line x1="297.82" y1="424.3" x2="302.42" y2="424.3" stroke="#1c1c1c" stroke-width="1.4"/>
<line x1="325.10" y1="413.3" x2="325.10" y2="425.5" stroke="#1c1c1c" stroke-width="1.15"/>
<line x1="322.80" y1="413.3" x2="327.40" y2="413.3" stroke="#1c1c1c" stroke-width="1.4"/>
<line x1="322.80" y1="425.5" x2="327.40" y2="425.5" stroke="#1c1c1c" stroke-width="1.4"/>
<line x1="350.08" y1="408.8" x2="350.08" y2="424.5" stroke="#1c1c1c" stroke-width="1.15"/>
<line x1="347.78" y1="408.8" x2="352.38" y2="408.8" stroke="#1c1c1c" stroke-width="1.4"/>
<line x1="347.78" y1="424.5" x2="352.38" y2="424.5" stroke="#1c1c1c" stroke-width="1.4"/>
<line x1="375.06" y1="402.8" x2="375.06" y2="418.8" stroke="#1c1c1c" stroke-width="1.15"/>
<line x1="372.76" y1="402.8" x2="377.36" y2="402.8" stroke="#1c1c1c" stroke-width="1.4"/>
<line x1="372.76" y1="418.8" x2="377.36" y2="418.8" stroke="#1c1c1c" stroke-width="1.4"/>
<line x1="400.04" y1="399.8" x2="400.04" y2="416.5" stroke="#1c1c1c" stroke-width="1.15"/>
<line x1="397.74" y1="399.8" x2="402.34" y2="399.8" stroke="#1c1c1c" stroke-width="1.4"/>
<line x1="397.74" y1="416.5" x2="402.34" y2="416.5" stroke="#1c1c1c" stroke-width="1.4"/>
<line x1="425.02" y1="389.5" x2="425.02" y2="409.2" stroke="#1c1c1c" stroke-width="1.15"/>
<line x1="422.72" y1="389.5" x2="427.32" y2="389.5" stroke="#1c1c1c" stroke-width="1.4"/>
<line x1="422.72" y1="409.2" x2="427.32" y2="409.2" stroke="#1c1c1c" stroke-width="1.4"/>
<line x1="450.00" y1="399.2" x2="450.00" y2="423.9" stroke="#1c1c1c" stroke-width="1.15"/>
<line x1="447.70" y1="399.2" x2="452.30" y2="399.2" stroke="#1c1c1c" stroke-width="1.4"/>
<line x1="447.70" y1="423.9" x2="452.30" y2="423.9" stroke="#1c1c1c" stroke-width="1.4"/>
<line x1="474.98" y1="386.1" x2="474.98" y2="408.9" stroke="#1c1c1c" stroke-width="1.15"/>
<line x1="472.68" y1="386.1" x2="477.28" y2="386.1" stroke="#1c1c1c" stroke-width="1.4"/>
<line x1="472.68" y1="408.9" x2="477.28" y2="408.9" stroke="#1c1c1c" stroke-width="1.4"/>
<line x1="499.96" y1="385.4" x2="499.96" y2="419.3" stroke="#1c1c1c" stroke-width="1.15"/>
<line x1="497.66" y1="385.4" x2="502.26" y2="385.4" stroke="#1c1c1c" stroke-width="1.4"/>
<line x1="497.66" y1="419.3" x2="502.26" y2="419.3" stroke="#1c1c1c" stroke-width="1.4"/>
<polyline points="75.30,447.5 100.28,446.3 125.26,442.5 150.24,438 175.22,435 200.20,428.3 225.18,423.3 250.16,424 275.14,420 300.12,418.3 325.10,419.5 350.08,416.5 375.06,410.8 400.04,408.5 425.02,399.6 450.00,411.9 474.98,397.4 499.96,402.3" fill="none" stroke="#870a32" stroke-width="1.8" stroke-linejoin="round"/>
<circle cx="75.30" cy="447.5" r="2.35" fill="#960a38"/>
<circle cx="100.28" cy="446.3" r="2.35" fill="#960a38"/>
<circle cx="125.26" cy="442.5" r="2.35" fill="#960a38"/>
<circle cx="150.24" cy="438" r="2.35" fill="#960a38"/>
<circle cx="175.22" cy="435" r="2.35" fill="#960a38"/>
<circle cx="200.20" cy="428.3" r="2.35" fill="#960a38"/>
<circle cx="225.18" cy="423.3" r="2.35" fill="#960a38"/>
<circle cx="250.16" cy="424" r="2.35" fill="#960a38"/>
<circle cx="275.14" cy="420" r="2.35" fill="#960a38"/>
<circle cx="300.12" cy="418.3" r="2.35" fill="#960a38"/>
<circle cx="325.10" cy="419.5" r="2.35" fill="#960a38"/>
<circle cx="350.08" cy="416.5" r="2.35" fill="#960a38"/>
<circle cx="375.06" cy="410.8" r="2.35" fill="#960a38"/>
<circle cx="400.04" cy="408.5" r="2.35" fill="#960a38"/>
<circle cx="425.02" cy="399.6" r="2.35" fill="#960a38"/>
<circle cx="450.00" cy="411.9" r="2.35" fill="#960a38"/>
<circle cx="474.98" cy="397.4" r="2.35" fill="#960a38"/>
<circle cx="499.96" cy="402.3" r="2.35" fill="#960a38"/>
<line x1="50.3" y1="544.8" x2="50.3" y2="652.6" stroke="#0a0a0a" stroke-width="1.35"/>
<line x1="49.7" y1="649.0" x2="512.3" y2="649.0" stroke="#0a0a0a" stroke-width="1.35"/>
<line x1="46.7" y1="547.2" x2="50.3" y2="547.2" stroke="#0a0a0a" stroke-width="1.3"/>
<text transform="translate(43.50,549.45) scale(0.909,1)" text-anchor="end" font-size="8.80">60</text>
<line x1="46.7" y1="564.2" x2="50.3" y2="564.2" stroke="#0a0a0a" stroke-width="1.3"/>
<text transform="translate(43.50,566.45) scale(0.909,1)" text-anchor="end" font-size="8.80">50</text>
<line x1="46.7" y1="581.0" x2="50.3" y2="581.0" stroke="#0a0a0a" stroke-width="1.3"/>
<text transform="translate(43.50,583.25) scale(0.909,1)" text-anchor="end" font-size="8.80">40</text>
<line x1="46.7" y1="598.2" x2="50.3" y2="598.2" stroke="#0a0a0a" stroke-width="1.3"/>
<text transform="translate(43.50,600.45) scale(0.909,1)" text-anchor="end" font-size="8.80">30</text>
<line x1="46.7" y1="615.4" x2="50.3" y2="615.4" stroke="#0a0a0a" stroke-width="1.3"/>
<text transform="translate(43.50,617.65) scale(0.909,1)" text-anchor="end" font-size="8.80">20</text>
<line x1="46.7" y1="632.2" x2="50.3" y2="632.2" stroke="#0a0a0a" stroke-width="1.3"/>
<text transform="translate(43.50,634.45) scale(0.909,1)" text-anchor="end" font-size="8.80">10</text>
<line x1="46.7" y1="649.0" x2="50.3" y2="649.0" stroke="#0a0a0a" stroke-width="1.3"/>
<text transform="translate(43.50,651.25) scale(0.909,1)" text-anchor="end" font-size="8.80">0</text>
<line x1="75.30" y1="649.0" x2="75.30" y2="652.6" stroke="#0a0a0a" stroke-width="1.3"/>
<text transform="translate(79.90,660.20) rotate(-45) scale(0.833,1)" text-anchor="end" font-size="9.60">BL</text>
<line x1="100.28" y1="649.0" x2="100.28" y2="652.6" stroke="#0a0a0a" stroke-width="1.3"/>
<text transform="translate(104.88,660.20) rotate(-45) scale(0.833,1)" text-anchor="end" font-size="9.60">C2D1</text>
<line x1="125.26" y1="649.0" x2="125.26" y2="652.6" stroke="#0a0a0a" stroke-width="1.3"/>
<text transform="translate(129.86,660.20) rotate(-45) scale(0.833,1)" text-anchor="end" font-size="9.60">C3D1</text>
<line x1="150.24" y1="649.0" x2="150.24" y2="652.6" stroke="#0a0a0a" stroke-width="1.3"/>
<text transform="translate(154.84,660.20) rotate(-45) scale(0.833,1)" text-anchor="end" font-size="9.60">C4D1</text>
<line x1="175.22" y1="649.0" x2="175.22" y2="652.6" stroke="#0a0a0a" stroke-width="1.3"/>
<text transform="translate(179.82,660.20) rotate(-45) scale(0.833,1)" text-anchor="end" font-size="9.60">C5D1</text>
<line x1="200.20" y1="649.0" x2="200.20" y2="652.6" stroke="#0a0a0a" stroke-width="1.3"/>
<text transform="translate(204.80,660.20) rotate(-45) scale(0.833,1)" text-anchor="end" font-size="9.60">C6D1</text>
<line x1="225.18" y1="649.0" x2="225.18" y2="652.6" stroke="#0a0a0a" stroke-width="1.3"/>
<text transform="translate(229.78,660.20) rotate(-45) scale(0.833,1)" text-anchor="end" font-size="9.60">C7D1</text>
<line x1="250.16" y1="649.0" x2="250.16" y2="652.6" stroke="#0a0a0a" stroke-width="1.3"/>
<text transform="translate(254.76,660.20) rotate(-45) scale(0.833,1)" text-anchor="end" font-size="9.60">C8D1</text>
<line x1="275.14" y1="649.0" x2="275.14" y2="652.6" stroke="#0a0a0a" stroke-width="1.3"/>
<text transform="translate(279.74,660.20) rotate(-45) scale(0.833,1)" text-anchor="end" font-size="9.60">C9D1</text>
<line x1="300.12" y1="649.0" x2="300.12" y2="652.6" stroke="#0a0a0a" stroke-width="1.3"/>
<text transform="translate(304.72,660.20) rotate(-45) scale(0.833,1)" text-anchor="end" font-size="9.60">C10D1</text>
<line x1="325.10" y1="649.0" x2="325.10" y2="652.6" stroke="#0a0a0a" stroke-width="1.3"/>
<text transform="translate(329.70,660.20) rotate(-45) scale(0.833,1)" text-anchor="end" font-size="9.60">C11D1</text>
<line x1="350.08" y1="649.0" x2="350.08" y2="652.6" stroke="#0a0a0a" stroke-width="1.3"/>
<text transform="translate(354.68,660.20) rotate(-45) scale(0.833,1)" text-anchor="end" font-size="9.60">C12D1</text>
<line x1="375.06" y1="649.0" x2="375.06" y2="652.6" stroke="#0a0a0a" stroke-width="1.3"/>
<text transform="translate(379.66,660.20) rotate(-45) scale(0.833,1)" text-anchor="end" font-size="9.60">C13D1</text>
<line x1="400.04" y1="649.0" x2="400.04" y2="652.6" stroke="#0a0a0a" stroke-width="1.3"/>
<text transform="translate(404.64,660.20) rotate(-45) scale(0.833,1)" text-anchor="end" font-size="9.60">C14D1</text>
<line x1="425.02" y1="649.0" x2="425.02" y2="652.6" stroke="#0a0a0a" stroke-width="1.3"/>
<text transform="translate(429.62,660.20) rotate(-45) scale(0.833,1)" text-anchor="end" font-size="9.60">C15D1</text>
<line x1="450.00" y1="649.0" x2="450.00" y2="652.6" stroke="#0a0a0a" stroke-width="1.3"/>
<text transform="translate(454.60,660.20) rotate(-45) scale(0.833,1)" text-anchor="end" font-size="9.60">C16D1</text>
<line x1="474.98" y1="649.0" x2="474.98" y2="652.6" stroke="#0a0a0a" stroke-width="1.3"/>
<text transform="translate(479.58,660.20) rotate(-45) scale(0.833,1)" text-anchor="end" font-size="9.60">C17D1</text>
<line x1="499.96" y1="649.0" x2="499.96" y2="652.6" stroke="#0a0a0a" stroke-width="1.3"/>
<text transform="translate(504.56,660.20) rotate(-45) scale(0.833,1)" text-anchor="end" font-size="9.60">C18D1</text>
<text transform="translate(270.60,691.40) scale(0.769,1)" font-size="11.05">Cycle</text>
<text transform="translate(49.20,703.60) scale(0.800,1)" font-size="9.25">n=</text>
<text transform="translate(75.30,703.60) scale(0.800,1)" text-anchor="middle" font-size="9.50">174</text>
<text transform="translate(100.28,703.60) scale(0.800,1)" text-anchor="middle" font-size="9.50">139</text>
<text transform="translate(125.26,703.60) scale(0.800,1)" text-anchor="middle" font-size="9.50">119</text>
<text transform="translate(175.22,703.60) scale(0.800,1)" text-anchor="middle" font-size="9.50">81</text>
<text transform="translate(225.18,703.60) scale(0.800,1)" text-anchor="middle" font-size="9.50">58</text>
<text transform="translate(275.14,703.60) scale(0.800,1)" text-anchor="middle" font-size="9.50">48</text>
<text transform="translate(325.10,703.60) scale(0.800,1)" text-anchor="middle" font-size="9.50">27</text>
<text transform="translate(375.06,703.60) scale(0.800,1)" text-anchor="middle" font-size="9.50">19</text>
<text transform="translate(425.02,703.60) scale(0.800,1)" text-anchor="middle" font-size="9.50">16</text>
<text transform="translate(474.98,703.60) scale(0.800,1)" text-anchor="middle" font-size="9.50">11</text>
<text transform="translate(498.00,557.30) scale(0.909,1)" text-anchor="end" font-size="8.58">N = 174</text>
<text transform="translate(24.00,596.80) rotate(-90) scale(0.909,1)" text-anchor="middle" font-size="10.39">Bone marrow blasts (%)</text>
<line x1="75.30" y1="561.8" x2="75.30" y2="569" stroke="#1c1c1c" stroke-width="1.15"/>
<line x1="73.00" y1="561.8" x2="77.60" y2="561.8" stroke="#1c1c1c" stroke-width="1.4"/>
<line x1="73.00" y1="569" x2="77.60" y2="569" stroke="#1c1c1c" stroke-width="1.4"/>
<line x1="100.28" y1="580.8" x2="100.28" y2="589.3" stroke="#1c1c1c" stroke-width="1.15"/>
<line x1="97.98" y1="580.8" x2="102.58" y2="580.8" stroke="#1c1c1c" stroke-width="1.4"/>
<line x1="97.98" y1="589.3" x2="102.58" y2="589.3" stroke="#1c1c1c" stroke-width="1.4"/>
<line x1="125.26" y1="599.5" x2="125.26" y2="607.5" stroke="#1c1c1c" stroke-width="1.15"/>
<line x1="122.96" y1="599.5" x2="127.56" y2="599.5" stroke="#1c1c1c" stroke-width="1.4"/>
<line x1="122.96" y1="607.5" x2="127.56" y2="607.5" stroke="#1c1c1c" stroke-width="1.4"/>
<line x1="175.22" y1="615.8" x2="175.22" y2="624" stroke="#1c1c1c" stroke-width="1.15"/>
<line x1="172.92" y1="615.8" x2="177.52" y2="615.8" stroke="#1c1c1c" stroke-width="1.4"/>
<line x1="172.92" y1="624" x2="177.52" y2="624" stroke="#1c1c1c" stroke-width="1.4"/>
<line x1="225.18" y1="608.7" x2="225.18" y2="620.8" stroke="#1c1c1c" stroke-width="1.15"/>
<line x1="222.88" y1="608.7" x2="227.48" y2="608.7" stroke="#1c1c1c" stroke-width="1.4"/>
<line x1="222.88" y1="620.8" x2="227.48" y2="620.8" stroke="#1c1c1c" stroke-width="1.4"/>
<line x1="275.14" y1="612.7" x2="275.14" y2="625.1" stroke="#1c1c1c" stroke-width="1.15"/>
<line x1="272.84" y1="612.7" x2="277.44" y2="612.7" stroke="#1c1c1c" stroke-width="1.4"/>
<line x1="272.84" y1="625.1" x2="277.44" y2="625.1" stroke="#1c1c1c" stroke-width="1.4"/>
<line x1="325.10" y1="608.2" x2="325.10" y2="626.3" stroke="#1c1c1c" stroke-width="1.15"/>
<line x1="322.80" y1="608.2" x2="327.40" y2="608.2" stroke="#1c1c1c" stroke-width="1.4"/>
<line x1="322.80" y1="626.3" x2="327.40" y2="626.3" stroke="#1c1c1c" stroke-width="1.4"/>
<line x1="375.06" y1="600.4" x2="375.06" y2="619.8" stroke="#1c1c1c" stroke-width="1.15"/>
<line x1="372.76" y1="600.4" x2="377.36" y2="600.4" stroke="#1c1c1c" stroke-width="1.4"/>
<line x1="372.76" y1="619.8" x2="377.36" y2="619.8" stroke="#1c1c1c" stroke-width="1.4"/>
<line x1="425.02" y1="617.3" x2="425.02" y2="635" stroke="#1c1c1c" stroke-width="1.15"/>
<line x1="422.72" y1="617.3" x2="427.32" y2="617.3" stroke="#1c1c1c" stroke-width="1.4"/>
<line x1="422.72" y1="635" x2="427.32" y2="635" stroke="#1c1c1c" stroke-width="1.4"/>
<line x1="474.98" y1="599.4" x2="474.98" y2="627.3" stroke="#1c1c1c" stroke-width="1.15"/>
<line x1="472.68" y1="599.4" x2="477.28" y2="599.4" stroke="#1c1c1c" stroke-width="1.4"/>
<line x1="472.68" y1="627.3" x2="477.28" y2="627.3" stroke="#1c1c1c" stroke-width="1.4"/>
<polyline points="75.30,565.5 100.28,585 125.26,603.3 175.22,620 225.18,614.8 275.14,618.7 325.10,617.2 375.06,610.2 425.02,626.3 474.98,613.5" fill="none" stroke="#870a32" stroke-width="1.8" stroke-linejoin="round"/>
<circle cx="75.30" cy="565.5" r="2.35" fill="#960a38"/>
<circle cx="100.28" cy="585" r="2.35" fill="#960a38"/>
<circle cx="125.26" cy="603.3" r="2.35" fill="#960a38"/>
<circle cx="175.22" cy="620" r="2.35" fill="#960a38"/>
<circle cx="225.18" cy="614.8" r="2.35" fill="#960a38"/>
<circle cx="275.14" cy="618.7" r="2.35" fill="#960a38"/>
<circle cx="325.10" cy="617.2" r="2.35" fill="#960a38"/>
<circle cx="375.06" cy="610.2" r="2.35" fill="#960a38"/>
<circle cx="425.02" cy="626.3" r="2.35" fill="#960a38"/>
<circle cx="474.98" cy="613.5" r="2.35" fill="#960a38"/>
</svg></div></body></html>
